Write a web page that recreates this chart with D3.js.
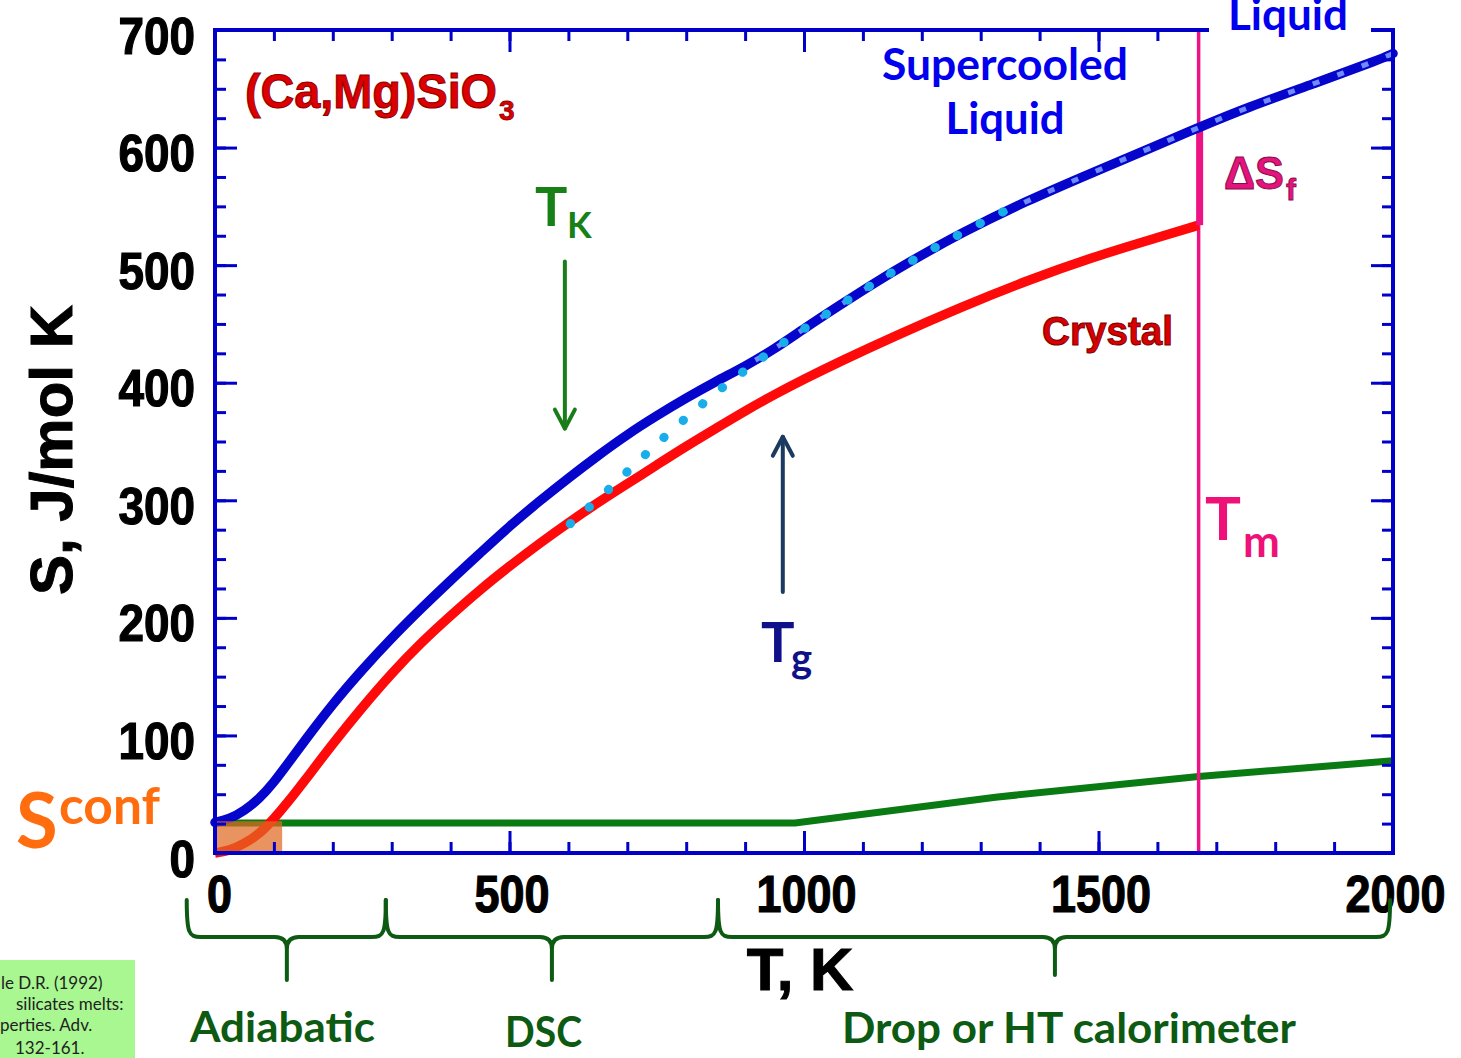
<!DOCTYPE html>
<html>
<head>
<meta charset="utf-8">
<script src="https://cdn.jsdelivr.net/npm/d3@7/dist/d3.min.js"></script>
<style>
  html, body { margin: 0; padding: 0; background: #fff; }
  svg { display: block; }
  .arial { font-family: "Liberation Sans", Arial, sans-serif; font-weight: bold; }
  .cal { font-family: Lato, "Open Sans", sans-serif; font-weight: 700; }
</style>
</head>
<body>
<script>
// Entropy of (Ca,Mg)SiO3: glass / liquid vs crystal, S in J/mol K against T in K
const temperatureTicksMajor = [0, 500, 1000, 1500, 2000];
const temperatureTicksMinor = d3.range(0, 2001, 100);
const entropyTicksMajor = [0, 100, 200, 300, 400, 500, 600, 700];
const entropyTicksMinor = d3.range(0, 701, 25);

// glass (below Tg ~ 950 K) continuing into the liquid
const glassLiquid = [
  [0, 26], [25, 29], [50, 36], [75, 46], [100, 60], [125, 77], [150, 94],
  [200, 127], [250, 156], [300, 183], [350, 208], [400, 232], [450, 255],
  [500, 278], [550, 299], [600, 319], [650, 338], [700, 356], [750, 372],
  [800, 387], [850, 401], [900, 414], [948, 428], [1000, 446], [1061, 466],
  [1120, 485], [1180, 503], [1265, 527], [1379, 555], [1491, 579], [1604, 603],
  [1670, 617], [1752, 634], [1864, 654], [1978, 675], [2000, 680]
];
// equilibrium / supercooled liquid portion (dotted overlay)
const liquidDotted = glassLiquid.filter(d => d[0] >= 900);
// extrapolated supercooled liquid down to the Kauzmann point
const supercooledExtrap = [
  [603, 280], [649, 300], [693, 321], [733, 340], [776, 360], [823, 380],
  [866, 398], [912, 415], [956, 431], [1000, 446], [1061, 466], [1120, 485],
  [1180, 503], [1265, 527], [1360, 551]
];
// crystal up to the melting point
const crystal = [
  [0, 0], [25, 2], [50, 8], [75, 16], [100, 29], [125, 44], [150, 60],
  [200, 93], [250, 124], [300, 153], [350, 179], [400, 202], [450, 224],
  [500, 244], [550, 263], [600, 281], [650, 298], [700, 314], [750, 330],
  [800, 346], [850, 361], [900, 376], [950, 390], [1000, 403], [1061, 418],
  [1151, 439], [1265, 464], [1379, 487], [1491, 507], [1604, 524], [1670, 534]
];
// configurational entropy
const sconf = [[0, 25.5], [985, 25.5], [1325, 47.5], [1670, 65], [2000, 78.5]];

const meltingT = 1670;
const fusionRange = [534, 617];
const kauzmannArrow = { T: 594, from: 503, to: 361 };
const glassArrow = { T: 964, from: 222, to: 354 };
const sconfBox = { T: [0, 114], S: [0, 27] };
const methodBraces = [
  { range: [-48, 290], tip: 122, label: "Adiabatic" },
  { range: [290, 854], tip: 572, label: "DSC" },
  { range: [854, 1995], tip: 1426, label: "Drop or HT calorimeter" }
];
const citationLines = ["le D.R. (1992)", "silicates melts:", "perties. Adv.", "132-161."];

const W = 1461, H = 1058;
const svg = d3.select("body").append("svg").attr("width", W).attr("height", H);
svg.append("rect").attr("width", W).attr("height", H).attr("fill", "#fff");

const x = d3.scaleLinear().domain([0, 2000]).range([215, 1393]);
const y = d3.scaleLinear().domain([0, 700]).range([853, 30]);

const AX = "#0000c8";
const line = d3.line().x(d => x(d[0])).y(d => y(d[1])).curve(d3.curveBasis);

// ---- curves ----
const plot = svg.append("g");
plot.append("path").datum(sconf).attr("d", d3.line().x(d => x(d[0])).y(d => y(d[1])))
  .attr("fill", "none").attr("stroke", "#0a7a12").attr("stroke-width", 7);

plot.append("line").attr("x1", x(meltingT)).attr("x2", x(meltingT))
  .attr("y1", y(0)).attr("y2", y(700))
  .attr("stroke", "#ee1385").attr("stroke-width", 3.5);

plot.append("path").datum(crystal).attr("d", line)
  .attr("fill", "none").attr("stroke", "#ff0a0a").attr("stroke-width", 9.5)
  .attr("stroke-linecap", "butt");

plot.append("line").attr("x1", x(meltingT) + 1).attr("x2", x(meltingT) + 1)
  .attr("y1", y(fusionRange[0])).attr("y2", y(fusionRange[1]))
  .attr("stroke", "#ee1385").attr("stroke-width", 7);

plot.append("path").datum(glassLiquid).attr("d", line)
  .attr("fill", "none").attr("stroke", "#0505cc").attr("stroke-width", 9.5)
  .attr("stroke-linecap", "round");

plot.append("path").datum(liquidDotted).attr("d", line)
  .attr("fill", "none").attr("stroke", "#6f8cff").attr("stroke-width", 5)
  .attr("stroke-dasharray", "7,19").attr("stroke-dashoffset", -12);

plot.append("path").datum(supercooledExtrap).attr("d", line)
  .attr("fill", "none").attr("stroke", "#19aeea").attr("stroke-width", 9)
  .attr("stroke-linecap", "round").attr("stroke-dasharray", "0.5,25");

// Sconf shaded box
plot.append("rect")
  .attr("x", x(sconfBox.T[0]) - 2).attr("y", y(sconfBox.S[1]))
  .attr("width", x(sconfBox.T[1]) - x(sconfBox.T[0]) + 2)
  .attr("height", y(sconfBox.S[0]) - y(sconfBox.S[1]))
  .attr("fill", "#e06a22").attr("opacity", 0.72);

// ---- axes ----
function styleAxis(g) {
  g.select(".domain").remove();
  g.selectAll(".tick line").attr("stroke", AX).attr("stroke-width", 3);
}
const axes = svg.append("g");
// minor + major ticks on all four sides, pointing inward
[[d3.axisBottom, y(0), x, temperatureTicksMinor, temperatureTicksMajor, "x"],
 [d3.axisTop, y(700), x, temperatureTicksMinor, temperatureTicksMajor, "x"],
 [d3.axisLeft, x(0), y, entropyTicksMinor, entropyTicksMajor, "y"],
 [d3.axisRight, x(2000), y, entropyTicksMinor, entropyTicksMajor, "y"]
].forEach(([fn, pos, sc, minor, major, dir]) => {
  const tr = dir === "x" ? `translate(0,${pos})` : `translate(${pos},0)`;
  axes.append("g").attr("transform", tr)
    .call(fn(sc).tickValues(minor).tickSize(-11).tickFormat(""))
    .call(styleAxis);
  axes.append("g").attr("transform", tr)
    .call(fn(sc).tickValues(major).tickSize(-22).tickFormat(""))
    .call(styleAxis);
});
// frame
axes.append("rect").attr("x", x(0)).attr("y", y(700))
  .attr("width", x(2000) - x(0)).attr("height", y(0) - y(700))
  .attr("fill", "none").attr("stroke", AX).attr("stroke-width", 4);

// tick labels
const xLab = axes.append("g").attr("transform", `translate(0,${y(0)})`)
  .call(d3.axisBottom(x).tickValues(temperatureTicksMajor).tickSize(0).tickFormat(d3.format("d")));
xLab.select(".domain").remove();
xLab.selectAll("text").attr("class", "arial").attr("font-size", 51)
  .attr("fill", "#000").attr("stroke", "#000").attr("stroke-width", 1.2)
  .attr("y", 59).attr("dy", 0)
  .attr("textLength", d => String(d).length * 25).attr("lengthAdjust", "spacingAndGlyphs")
  .attr("dx", d => d === 0 ? 4 : 2);

const yLab = axes.append("g").attr("transform", `translate(${x(0)},0)`)
  .call(d3.axisLeft(y).tickValues(entropyTicksMajor).tickSize(0).tickFormat(d3.format("d")));
yLab.select(".domain").remove();
yLab.selectAll("text").attr("class", "arial").attr("font-size", 51)
  .attr("fill", "#000").attr("stroke", "#000").attr("stroke-width", 1.2)
  .attr("x", -20).attr("dy", 23)
  .attr("textLength", d => String(d).length * 25.5).attr("lengthAdjust", "spacingAndGlyphs");

// axis titles
svg.append("text").attr("class", "arial").attr("x", 800).attr("y", 990)
  .attr("text-anchor", "middle").attr("font-size", 60).attr("fill", "#000")
  .attr("stroke", "#000").attr("stroke-width", 1).text("T, K");
svg.append("text").attr("class", "arial")
  .attr("transform", "translate(72,450) rotate(-90)")
  .attr("text-anchor", "middle").attr("font-size", 60).attr("fill", "#000")
  .attr("stroke", "#000").attr("stroke-width", 1)
  .attr("textLength", 290).attr("lengthAdjust", "spacingAndGlyphs")
  .text("S, J/mol K");

// ---- annotations ----
const ann = svg.append("g");

// top "Liquid" label breaking the frame
ann.append("rect").attr("x", 1209).attr("y", 20).attr("width", 162).attr("height", 26).attr("fill", "#fff");
ann.append("text").attr("class", "cal").attr("x", 1288).attr("y", 30)
  .attr("text-anchor", "middle").attr("font-size", 44).attr("fill", "#0000ee")
  .attr("textLength", 120).attr("lengthAdjust", "spacingAndGlyphs").text("Liquid");

// compound name
ann.append("text").attr("class", "arial").attr("x", 245).attr("y", 108)
  .attr("font-size", 48).attr("fill", "#dd0000").attr("stroke", "#8a0000").attr("stroke-width", 1)
  .attr("textLength", 252).attr("lengthAdjust", "spacingAndGlyphs").text("(Ca,Mg)SiO");
ann.append("text").attr("class", "arial").attr("x", 499).attr("y", 120)
  .attr("font-size", 28).attr("fill", "#dd0000").attr("stroke", "#8a0000").attr("stroke-width", 0.8)
  .text("3");

// supercooled liquid
ann.append("text").attr("class", "cal").attr("x", 1005).attr("y", 80)
  .attr("text-anchor", "middle").attr("font-size", 44).attr("fill", "#0000ee")
  .attr("textLength", 246).attr("lengthAdjust", "spacingAndGlyphs").text("Supercooled");
ann.append("text").attr("class", "cal").attr("x", 1005).attr("y", 134)
  .attr("text-anchor", "middle").attr("font-size", 44).attr("fill", "#0000ee")
  .attr("textLength", 119).attr("lengthAdjust", "spacingAndGlyphs").text("Liquid");

// entropy of fusion
ann.append("text").attr("class", "arial").attr("x", 1224).attr("y", 189)
  .attr("font-size", 46).attr("fill", "#e3147c").attr("stroke", "#8b0a4a").attr("stroke-width", 1)
  .attr("textLength", 60).attr("lengthAdjust", "spacingAndGlyphs").text("ΔS");
ann.append("text").attr("class", "arial").attr("x", 1286).attr("y", 200)
  .attr("font-size", 30).attr("fill", "#e3147c").attr("stroke", "#8b0a4a").attr("stroke-width", 0.8)
  .text("f");

// melting temperature
ann.append("text").attr("class", "cal").attr("x", 1205).attr("y", 540)
  .attr("font-size", 60).attr("fill", "#ee1177").text("T");
ann.append("text").attr("class", "cal").attr("x", 1243).attr("y", 557)
  .attr("font-size", 44).attr("fill", "#ee1177").text("m");

// crystal
ann.append("text").attr("class", "arial").attr("x", 1042).attr("y", 345)
  .attr("font-size", 40).attr("fill", "#d80000").attr("stroke", "#7a0000").attr("stroke-width", 1)
  .attr("textLength", 131).attr("lengthAdjust", "spacingAndGlyphs").text("Crystal");

// arrows
function arrow(a, color) {
  const g = ann.append("g").attr("stroke", color).attr("fill", "none")
    .attr("stroke-width", 4).attr("stroke-linecap", "round").attr("stroke-linejoin", "round");
  const xp = x(a.T), y0 = y(a.from), y1 = y(a.to);
  const dir = y1 > y0 ? 1 : -1;
  g.append("line").attr("x1", xp).attr("x2", xp).attr("y1", y0).attr("y2", y1);
  g.append("path").attr("d", `M${xp - 10},${y1 - dir * 19} L${xp},${y1} L${xp + 10},${y1 - dir * 19}`);
}
arrow(kauzmannArrow, "#1a7d1a");
arrow(glassArrow, "#1c3a60");

// Kauzmann temperature
ann.append("text").attr("class", "cal").attr("x", 535).attr("y", 226)
  .attr("font-size", 54).attr("fill", "#178017").text("T");
ann.append("text").attr("class", "cal").attr("x", 567).attr("y", 238)
  .attr("font-size", 36).attr("fill", "#178017").text("K");

// glass transition
ann.append("text").attr("class", "cal").attr("x", 761).attr("y", 662)
  .attr("font-size", 56).attr("fill", "#101088").text("T");
ann.append("text").attr("class", "cal").attr("x", 791).attr("y", 672)
  .attr("font-size", 40).attr("fill", "#101088").text("g");

// configurational entropy
ann.append("text").attr("class", "cal").attr("x", 16).attr("y", 848)
  .attr("font-size", 76).attr("fill", "#ff6d0f").text("S");
ann.append("text").attr("class", "cal").attr("x", 59).attr("y", 824)
  .attr("font-size", 52).attr("fill", "#ff6d0f")
  .attr("textLength", 101).attr("lengthAdjust", "spacingAndGlyphs").text("conf");

// measurement technique braces
const braceG = svg.append("g");
const yTop = 900, yMid = 937;
methodBraces.forEach(b => {
  const x1 = x(b.range[0]), x2 = x(b.range[1]), xm = x(b.tip);
  const tipY = b.label.startsWith("Drop") ? 975 : 980;
  const d = `M${x1},${yTop} C${x1},${yMid - 4} ${x1 + 2},${yMid} ${x1 + 14},${yMid}
    L${xm - 12},${yMid} Q${xm},${yMid} ${xm},${yMid + 12} L${xm},${tipY}
    M${xm},${yMid + 12} Q${xm},${yMid} ${xm + 12},${yMid}
    L${x2 - 14},${yMid} C${x2 - 2},${yMid} ${x2},${yMid - 4} ${x2},${yTop}`;
  braceG.append("path").attr("d", d).attr("fill", "none")
    .attr("stroke", "#0d5a13").attr("stroke-width", 4).attr("stroke-linecap", "round");
});
const braceText = [
  { t: "Adiabatic", x: 190, y: 1042, w: 185 },
  { t: "DSC", x: 505, y: 1047, w: 77 },
  { t: "Drop or HT calorimeter", x: 842, y: 1043, w: 454 }
];
braceText.forEach(b => {
  braceG.append("text").attr("class", "cal").attr("x", b.x).attr("y", b.y)
    .attr("font-size", 42).attr("fill", "#0d5a13")
    .attr("textLength", b.w).attr("lengthAdjust", "spacingAndGlyphs").text(b.t);
});

// reference note
const note = svg.append("g");
note.append("rect").attr("x", 0).attr("y", 960).attr("width", 135).attr("height", 98).attr("fill", "#a8f790");
const noteX = [1, 16, 0, 15];
const noteY = [989, 1010, 1031, 1054];
citationLines.forEach((t, i) => {
  note.append("text").attr("x", noteX[i]).attr("y", noteY[i])
    .attr("font-family", "Lato, sans-serif").attr("font-size", 17).attr("fill", "#222").text(t);
});
</script>
</body>
</html>
